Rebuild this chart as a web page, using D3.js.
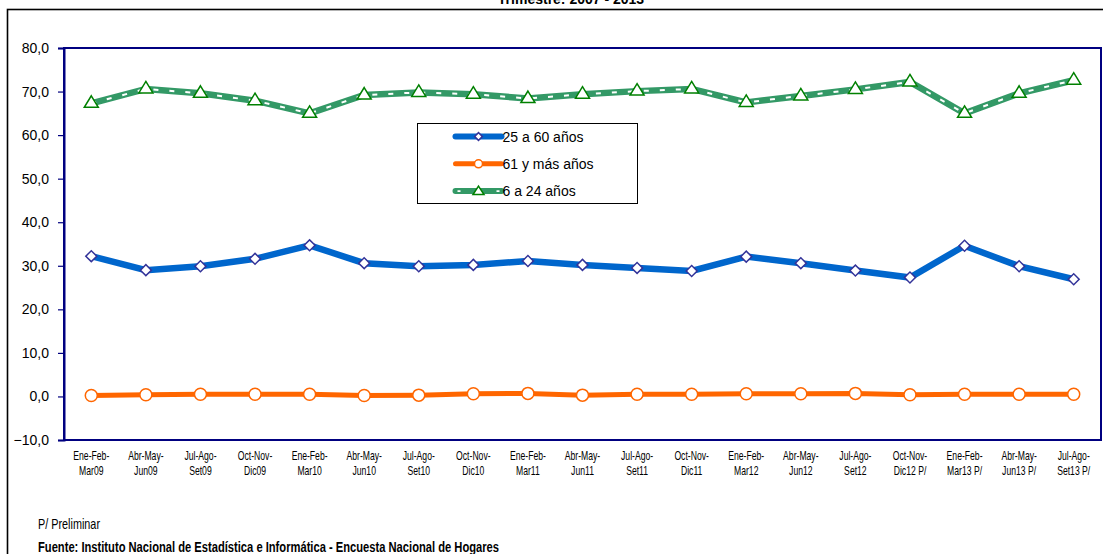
<!DOCTYPE html>
<head>
	<meta charset="utf-8">
	<script type="text/javascript" src="https://cdn.jsdelivr.net/npm/d3@7"></script>
	<style>
		body { margin: 0; background: #fff; }
		text { font-family: "Liberation Sans", Arial, sans-serif; }
	</style>
</head>
<body>
	<script type="text/javascript">

	var categories = ["Ene-Feb-Mar09", "Abr-May-Jun09", "Jul-Ago-Set09", "Oct-Nov-Dic09",
		"Ene-Feb-Mar10", "Abr-May-Jun10", "Jul-Ago-Set10", "Oct-Nov-Dic10",
		"Ene-Feb-Mar11", "Abr-May-Jun11", "Jul-Ago-Set11", "Oct-Nov-Dic11",
		"Ene-Feb-Mar12", "Abr-May-Jun12", "Jul-Ago-Set12", "Oct-Nov-Dic12 P/",
		"Ene-Feb-Mar13 P/", "Abr-May-Jun13 P/", "Jul-Ago-Set13 P/"];

	var adultos = [32.2, 29.0, 29.9, 31.6, 34.7, 30.6, 29.9, 30.2, 31.1, 30.2, 29.5,
		28.8, 32.1, 30.6, 28.9, 27.3, 34.6, 29.9, 26.9];
	var mayores = [0.2, 0.4, 0.5, 0.5, 0.5, 0.2, 0.3, 0.6, 0.7, 0.3, 0.5,
		0.5, 0.6, 0.6, 0.7, 0.4, 0.5, 0.5, 0.5];
	var jovenes = [67.3, 70.6, 69.6, 67.9, 65.0, 69.2, 69.8, 69.4, 68.4, 69.4, 70.1,
		70.6, 67.5, 69.0, 70.5, 72.2, 65.0, 69.6, 72.6];

	var seriesNames = ["25 a 60 años", "61 y más años", "6 a 24 años"];
	var yTicks = [-10, 0, 10, 20, 30, 40, 50, 60, 70, 80];

	var w = 1103;
	var h = 554;
	var plotL = 64, plotR = 1101, plotT = 48, plotB = 440;

	var svg = d3.select("body")
	.append("svg")
	.attr("width", w)
	.attr("height", h);

	// outer chart frame
	svg.append("rect")
	.attr("x", 7.5).attr("y", 9.5)
	.attr("width", 1110).attr("height", 560)
	.attr("fill", "none")
	.attr("stroke", "#000")
	.attr("stroke-width", 1.6);

	svg.append("text")
	.text("Trimestre: 2007 - 2013")
	.attr("x", 571).attr("y", 4)
	.attr("text-anchor", "middle")
	.attr("font-weight", "bold")
	.attr("font-size", "14px")
	.attr("fill", "#000");

	var xscale = d3.scalePoint()
	.domain(categories)
	.range([plotL, plotR])
	.padding(0.5);

	var yscale = d3.scaleLinear()
	.domain([-10, 80])
	.range([plotB, plotT]);

	var locale = d3.formatLocale({decimal: ",", thousands: ".", grouping: [3], currency: ["", ""]});
	var fmt = locale.format(".1f");

	// plot frame
	svg.append("rect")
	.attr("x", plotL).attr("y", plotT)
	.attr("width", plotR - plotL).attr("height", plotB - plotT)
	.attr("fill", "none")
	.attr("stroke", "#000080")
	.attr("stroke-width", 2);

	var yAxis = svg.append("g")
	.attr("transform", "translate(" + plotL + ",0)")
	.call(d3.axisLeft(yscale).tickValues(yTicks).tickFormat(fmt).tickSize(6).tickPadding(9));
	yAxis.select(".domain").attr("stroke", "#000080").attr("stroke-width", 2);
	yAxis.selectAll(".tick line").attr("stroke", "#000080").attr("stroke-width", 1.2);
	yAxis.selectAll(".tick text")
	.attr("font-family", "Liberation Sans, Arial, sans-serif")
	.attr("font-size", "14px")
	.attr("fill", "#000");

	// category labels, two lines each
	var xl = svg.append("g").selectAll("text")
	.data(categories)
	.enter()
	.append("text")
	.attr("text-anchor", "middle")
	.attr("font-size", "12px")
	.attr("fill", "#000")
	.attr("transform", function(d){
		return "translate(" + xscale(d) + ",0) scale(0.72,1)";
	});
	xl.append("tspan")
	.attr("x", 0).attr("y", 460)
	.text(function(d){ var i = d.lastIndexOf("-"); return d.slice(0, i + 1); });
	xl.append("tspan")
	.attr("x", 0).attr("y", 475)
	.text(function(d){ var i = d.lastIndexOf("-"); return d.slice(i + 1); });

	var line = d3.line()
	.x(function(d, i){ return xscale(categories[i]); })
	.y(function(d){ return yscale(d); });

	// 6 a 24 años : green with white dashes
	svg.append("path").datum(jovenes)
	.attr("d", line).attr("fill", "none")
	.attr("stroke", "#339966").attr("stroke-width", 6.5);
	svg.append("path").datum(jovenes)
	.attr("d", line).attr("fill", "none")
	.attr("stroke", "#fff").attr("stroke-width", 2)
	.attr("stroke-dasharray", "5,11");

	// 25 a 60 años : blue
	svg.append("path").datum(adultos)
	.attr("d", line).attr("fill", "none")
	.attr("stroke", "#0066CC").attr("stroke-width", 6.5);

	// 61 y más : orange
	svg.append("path").datum(mayores)
	.attr("d", line).attr("fill", "none")
	.attr("stroke", "#FF6600").attr("stroke-width", 5);

	var diamond = d3.symbol().type(d3.symbolSquare).size(60);
	var triangle = "M0,-6.5L7,5L-7,5Z";

	svg.selectAll(".tri")
	.data(jovenes)
	.enter()
	.append("path")
	.attr("class", "tri")
	.attr("d", triangle)
	.attr("transform", function(d, i){ return "translate(" + xscale(categories[i]) + "," + (yscale(d) - 1) + ")"; })
	.attr("fill", "#fff")
	.attr("stroke", "#008000")
	.attr("stroke-width", 1.5);

	svg.selectAll(".dia")
	.data(adultos)
	.enter()
	.append("path")
	.attr("class", "dia")
	.attr("d", diamond)
	.attr("transform", function(d, i){ return "translate(" + xscale(categories[i]) + "," + yscale(d) + ") rotate(45)"; })
	.attr("fill", "#fff")
	.attr("stroke", "#333399")
	.attr("stroke-width", 1.5);

	svg.selectAll(".circ")
	.data(mayores)
	.enter()
	.append("circle")
	.attr("class", "circ")
	.attr("cx", function(d, i){ return xscale(categories[i]); })
	.attr("cy", function(d){ return yscale(d); })
	.attr("r", 6)
	.attr("fill", "#fff")
	.attr("stroke", "#FF6600")
	.attr("stroke-width", 1.5);

	// legend
	var lg = svg.append("g").attr("transform", "translate(417.5,123.5)");
	lg.append("rect")
	.attr("width", 220).attr("height", 80)
	.attr("fill", "#fff")
	.attr("stroke", "#000")
	.attr("stroke-width", 1);

	var legendRows = lg.selectAll(".row")
	.data(seriesNames)
	.enter()
	.append("g")
	.attr("class", "row")
	.attr("transform", function(d, i){ return "translate(0," + (13 + i * 27.3) + ")"; });

	var legendColors = ["#0066CC", "#FF6600", "#339966"];
	legendRows.append("line")
	.attr("x1", 38).attr("x2", 84)
	.attr("stroke", function(d, i){ return legendColors[i]; })
	.attr("stroke-width", function(d, i){ return i == 1 ? 5 : 6; })
	.attr("stroke-linecap", "round");
	legendRows.filter(function(d, i){ return i == 2; })
	.append("line")
	.attr("x1", 40).attr("x2", 84)
	.attr("stroke", "#fff").attr("stroke-width", 1.8)
	.attr("stroke-dasharray", "3,36");

	legendRows.append("path")
	.attr("d", function(d, i){
		if (i == 0) return d3.symbol().type(d3.symbolSquare).size(30)();
		if (i == 1) return d3.symbol().type(d3.symbolCircle).size(50)();
		return "M0,-5L5.5,3.5L-5.5,3.5Z";
	})
	.attr("transform", function(d, i){ return "translate(61,0)" + (i == 0 ? " rotate(45)" : ""); })
	.attr("fill", "#fff")
	.attr("stroke", function(d, i){ return ["#333399", "#FF6600", "#008000"][i]; })
	.attr("stroke-width", 1.5);

	legendRows.append("text")
	.text(function(d){ return d; })
	.attr("x", 85).attr("y", 5)
	.attr("font-size", "14px")
	.attr("fill", "#000");

	// notes
	svg.append("text")
	.text("P/ Preliminar")
	.attr("x", 38).attr("y", 529)
	.attr("font-size", "14.5px")
	.attr("textLength", 62).attr("lengthAdjust", "spacingAndGlyphs")
	.attr("fill", "#000");

	svg.append("text")
	.text("Fuente: Instituto Nacional de Estadística e Informática - Encuesta Nacional de Hogares")
	.attr("x", 38).attr("y", 552)
	.attr("font-size", "14.5px")
	.attr("font-weight", "bold")
	.attr("textLength", 461).attr("lengthAdjust", "spacingAndGlyphs")
	.attr("fill", "#000");

	</script>
</body>
</html>
